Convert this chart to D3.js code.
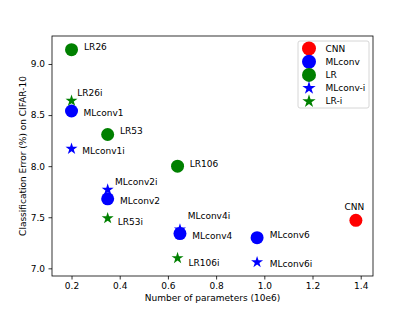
<!DOCTYPE html>
<html lang="en">
<head>
    <meta charset="utf-8" />
    <title>CIFAR-10 error vs parameters</title>
    <script src="https://d3js.org/d3.v7.min.js"></script>
    <style>
        body {
            margin: 0;
            padding: 0;
            background: white;
        }
        text {
            font-family: "DejaVu Sans", sans-serif;
        }
    </style>
</head>
<body>
<svg id="chart"></svg>
<script>
    var w = 415;
    var h = 311;

    // Series names (legend order)
    var seriesNames = ["CNN", "MLconv", "LR", "MLconv-i", "LR-i"];

    // Values: parameters (10e6) and error (%)
    var cnnLabels = ["CNN"];
    var cnnParams = [1.38];
    var cnnError = [7.47];

    var mlconvLabels = ["MLconv1", "MLconv2", "MLconv4", "MLconv6"];
    var mlconvParams = [0.2, 0.35, 0.65, 0.97];
    var mlconvError = [8.54, 7.68, 7.34, 7.30];

    var lrLabels = ["LR26", "LR53", "LR106"];
    var lrParams = [0.2, 0.35, 0.64];
    var lrError = [9.14, 8.31, 8.00];

    var mlconviLabels = ["MLconv1i", "MLconv2i", "MLconv4i", "MLconv6i"];
    var mlconviParams = [0.2, 0.35, 0.65, 0.97];
    var mlconviError = [8.17, 7.77, 7.38, 7.06];

    var lriLabels = ["LR26i", "LR53i", "LR106i"];
    var lriParams = [0.2, 0.35, 0.64];
    var lriError = [8.64, 7.49, 7.10];

    var xTicks = [0.2, 0.4, 0.6, 0.8, 1.0, 1.2, 1.4];
    var yTicks = [7.0, 7.5, 8.0, 8.5, 9.0];

    // Styling per series
    var styles = {
        "CNN": {color: "#ff0000", shape: "circle"},
        "MLconv": {color: "#0000ff", shape: "circle"},
        "LR": {color: "#008000", shape: "circle"},
        "MLconv-i": {color: "#0000ff", shape: "star"},
        "LR-i": {color: "#008000", shape: "star"}
    };

    // Pixel offsets of each annotation from its marker (left edge, middle)
    var labelOffsets = {
        "CNN": [-11.5, -13.5],
        "MLconv1": [12, 1.5], "MLconv2": [12.3, 2], "MLconv4": [12.3, 2], "MLconv6": [12.7, -2.6],
        "LR26": [12.6, -3.3], "LR53": [12.3, -4], "LR106": [12.3, -2.7],
        "MLconv1i": [10.7, 1.7], "MLconv2i": [7.3, -7.7], "MLconv4i": [7.7, -14], "MLconv6i": [12.7, 1.6],
        "LR26i": [5.7, -8], "LR53i": [10, 3.7], "LR106i": [11, 4.6]
    };

    function pack(labels, xs, ys) {
        return labels.map(function(d, i) {
            return {label: d, x: xs[i], y: ys[i]};
        });
    }

    var series = [
        {name: "CNN", points: pack(cnnLabels, cnnParams, cnnError)},
        {name: "MLconv", points: pack(mlconvLabels, mlconvParams, mlconvError)},
        {name: "LR", points: pack(lrLabels, lrParams, lrError)},
        {name: "MLconv-i", points: pack(mlconviLabels, mlconviParams, mlconviError)},
        {name: "LR-i", points: pack(lriLabels, lriParams, lriError)}
    ];

    var margin = {left: 52, top: 36, right: 42, bottom: 35};
    var plotW = w - margin.left - margin.right;
    var plotH = h - margin.top - margin.bottom;

    var svg = d3.select("#chart")
                .attr("width", w)
                .attr("height", h);

    var xScale = d3.scaleLinear()
                .domain([0.119, 1.451])
                .range([0, plotW]);

    var yScale = d3.scaleLinear()
                .domain([6.925, 9.274])
                .range([plotH, 0]);

    var g = svg.append("g")
               .attr("transform", "translate(" + margin.left + "," + margin.top + ")");

    // Axes
    var xAxis = d3.axisBottom(xScale)
                  .tickValues(xTicks)
                  .tickFormat(d3.format(".1f"))
                  .tickSize(3.5)
                  .tickPadding(3.5);
    var yAxis = d3.axisLeft(yScale)
                  .tickValues(yTicks)
                  .tickFormat(d3.format(".1f"))
                  .tickSize(3.5)
                  .tickPadding(3.5);

    var gx = g.append("g")
              .attr("transform", "translate(0," + plotH + ")")
              .call(xAxis);
    var gy = g.append("g").call(yAxis);

    [gx, gy].forEach(function(a) {
        a.select(".domain").remove();
        a.selectAll("line").attr("stroke", "black").attr("stroke-width", 0.8);
        a.selectAll("text")
         .attr("font-family", "DejaVu Sans, sans-serif")
         .attr("font-size", "9px")
         .attr("fill", "black");
    });

    // Frame
    g.append("rect")
     .attr("x", 0)
     .attr("y", 0)
     .attr("width", plotW)
     .attr("height", plotH)
     .attr("fill", "none")
     .attr("stroke", "black")
     .attr("stroke-width", 0.8);

    function symbolPath(shape, r) {
        if (shape === "star") {
            return d3.symbol().type(d3.symbolStar).size(r * r / 0.8908130915)();
        }
        return d3.symbol().type(d3.symbolCircle).size(Math.PI * r * r)();
    }

    // Markers
    series.forEach(function(s) {
        var st = styles[s.name];
        g.selectAll(".m-" + s.name)
         .data(s.points)
         .enter()
         .append("path")
         .attr("d", symbolPath(st.shape, st.shape === "star" ? 6.3 : 6.5))
         .attr("transform", function(d) {
             return "translate(" + xScale(d.x) + "," + yScale(d.y) + ")";
         })
         .attr("fill", st.color);
    });

    // Annotations
    series.forEach(function(s) {
        g.selectAll(".t-" + s.name)
         .data(s.points)
         .enter()
         .append("text")
         .text(function(d) { return d.label; })
         .attr("x", function(d) { return xScale(d.x) + labelOffsets[d.label][0]; })
         .attr("y", function(d) { return yScale(d.y) + labelOffsets[d.label][1]; })
         .attr("dy", "0.35em")
         .attr("font-size", "9px")
         .attr("fill", "black");
    });

    // Axis labels
    svg.append("text")
       .attr("x", margin.left + plotW / 2)
       .attr("y", 301)
       .attr("text-anchor", "middle")
       .attr("font-size", "9px")
       .text("Number of parameters (10e6)");

    svg.append("text")
       .attr("transform", "translate(26," + (margin.top + plotH / 2) + ") rotate(-90)")
       .attr("text-anchor", "middle")
       .attr("font-size", "9px")
       .text("Classification Error (%) on CIFAR-10");

    // Legend
    var legend = svg.append("g").attr("transform", "translate(298,41)");
    legend.append("rect")
          .attr("width", 71)
          .attr("height", 67)
          .attr("rx", 2)
          .attr("fill", "white")
          .attr("fill-opacity", 0.8)
          .attr("stroke", "#cccccc")
          .attr("stroke-width", 0.8);

    var items = legend.selectAll(".item")
                      .data(seriesNames)
                      .enter()
                      .append("g")
                      .attr("transform", function(d, i) {
                          return "translate(0," + (7.5 + i * 13.2) + ")";
                      });
    items.append("path")
         .attr("d", function(d) { return symbolPath(styles[d].shape, 7); })
         .attr("transform", "translate(11,0)")
         .attr("fill", function(d) { return styles[d].color; });
    items.append("text")
         .attr("x", 27.5)
         .attr("dy", "0.35em")
         .attr("font-size", "9px")
         .text(function(d) { return d; });
</script>
</body>
</html>
